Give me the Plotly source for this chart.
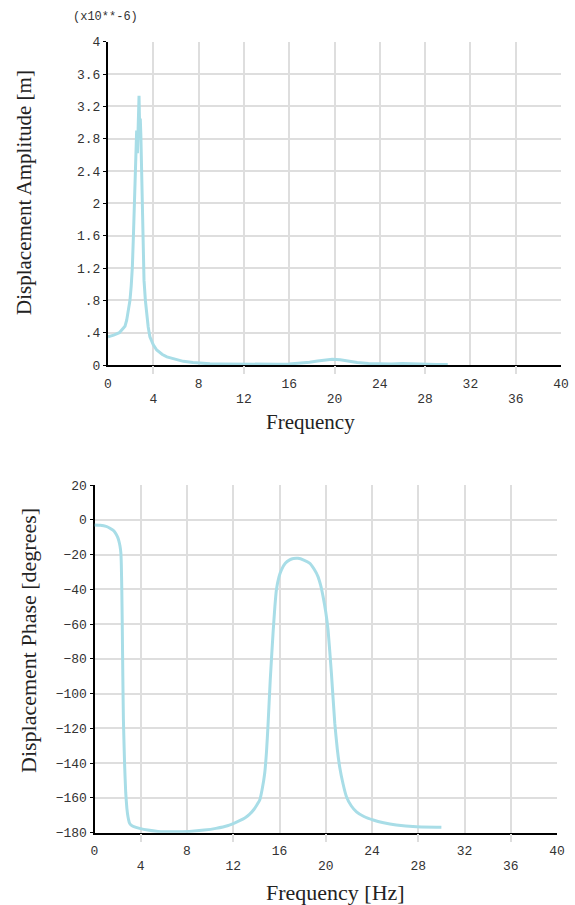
import plotly.graph_objects as go

# ---- data -------------------------------------------------------------
# displacement amplitude, in units of 1e-6 m
amp_freq = [0, 0.5, 1.0, 1.5, 1.65, 1.8, 1.94, 2.05, 2.15, 2.24, 2.38, 2.53,
            2.6, 2.66, 2.74, 2.8, 2.85, 2.9, 2.97, 3.06, 3.18, 3.3, 3.41,
            3.55, 3.7, 4.0, 4.3, 4.8, 5.2, 6.0, 6.65, 7.5, 8.1, 9.0, 10.0,
            11.0, 12.0, 13.0, 14.0, 15.0, 16.0, 17.0, 17.8, 18.5, 19.2, 19.8,
            20.5, 21.2, 22.0, 23.0, 24.0, 25.0, 26.0, 27.0, 28.0, 29.0, 30.0]
amp_vals = [0.35, 0.37, 0.40, 0.48, 0.555, 0.66, 0.80, 0.98, 1.21, 1.58, 2.28,
            2.90, 2.62, 2.95, 3.33, 2.90, 3.05, 2.85, 2.41, 1.67, 1.05, 0.80,
            0.64, 0.47, 0.35, 0.25, 0.185, 0.13, 0.10, 0.065, 0.045, 0.03,
            0.022, 0.015, 0.012, 0.010, 0.008, 0.008, 0.008, 0.010, 0.012,
            0.020, 0.035, 0.050, 0.065, 0.070, 0.065, 0.045, 0.030, 0.020,
            0.015, 0.012, 0.018, 0.012, 0.008, 0.006, 0.006]

# displacement phase, degrees
ph_freq = [0, 0.5, 1.0, 1.3, 1.6, 1.8, 2.0, 2.1, 2.2, 2.28, 2.32, 2.36, 2.4,
           2.45, 2.5, 2.6, 2.7, 2.8, 2.9, 3.03, 3.2, 3.4, 3.9, 4.6, 5.5, 7.0,
           8.2, 9.5, 10.5, 11.5, 12.55, 13.0, 13.4, 13.8, 14.0, 14.29, 14.5,
           14.72, 14.88, 15.0, 15.2, 15.44, 15.6, 15.73, 15.95, 16.16, 16.5,
           16.88, 17.2, 17.6, 18.1, 18.6, 19.0, 19.33, 19.55, 19.77, 20.0,
           20.2, 20.49, 20.78, 21.0, 21.2, 21.5, 21.79, 22.2, 22.66, 23.3,
           24.1, 25.0, 26.1, 27.85, 30.0]
ph_vals = [-3.0, -3.2, -3.8, -4.7, -6.0, -7.5, -10.0, -12.0, -15.0, -19.0,
           -26.0, -40.0, -60.0, -90.0, -115.0, -140.0, -157.0, -166.0, -171.0,
           -174.5, -175.8, -176.5, -177.5, -178.5, -179.3, -179.5, -179.3,
           -178.5, -177.5, -176.0, -173.0, -171.5, -169.5, -166.5, -164.5,
           -161.2, -155.0, -145.8, -133.0, -119.0, -92.0, -65.3, -50.0, -40.4,
           -33.0, -28.9, -25.0, -23.1, -22.3, -22.2, -23.2, -25.0, -28.5,
           -32.7, -37.5, -44.2, -53.0, -63.4, -88.3, -117.0, -132.0, -142.0,
           -152.0, -159.3, -164.5, -168.0, -170.7, -172.7, -174.3, -175.6,
           -176.6, -176.9]

# axis ticks
x_grid = list(range(0, 41, 4))            # every vertical grid line
x_major = [0, 8, 16, 24, 32, 40]          # upper label row
x_minor = [4, 12, 20, 28, 36]             # lower label row
amp_ticks = [0, 0.4, 0.8, 1.2, 1.6, 2.0, 2.4, 2.8, 3.2, 3.6, 4.0]
amp_text = ["0", ".4", ".8", "1.2", "1.6", "2", "2.4", "2.8", "3.2", "3.6", "4"]
ph_ticks = list(range(-180, 21, 20))

# upper row shows only the multiples of 8; the rest go on the lower row
x_grid_text = [str(v) if v in x_major else "" for v in x_grid]

# ---- styling ----------------------------------------------------------
W, H = 575, 905
CURVE = "#a8dde7"
GRID = "#dedede"
MONO = dict(family="Liberation Mono, Courier New, monospace", size=13, color="#333")
SERIF = "Liberation Serif, Times New Roman, serif"

top_x = [108 / W, 561 / W]
top_y = [1 - 365 / H, 1 - 41.7 / H]
bot_x = [94.5 / W, 557 / W]
bot_y = [1 - 832.7 / H, 1 - 485 / H]

fig = go.Figure()
fig.add_trace(go.Scatter(x=amp_freq, y=amp_vals, mode="lines",
                         line=dict(color=CURVE, width=3), xaxis="x", yaxis="y",
                         hoverinfo="skip", showlegend=False))
fig.add_trace(go.Scatter(x=ph_freq, y=ph_vals, mode="lines",
                         line=dict(color=CURVE, width=3, shape="spline", smoothing=0.4),
                         xaxis="x2", yaxis="y2", hoverinfo="skip", showlegend=False))
# invisible carriers for the second row of frequency labels
fig.add_trace(go.Scatter(x=x_minor, y=[None] * len(x_minor), xaxis="x3", yaxis="y",
                         showlegend=False, hoverinfo="skip"))
fig.add_trace(go.Scatter(x=x_minor, y=[None] * len(x_minor), xaxis="x4", yaxis="y2",
                         showlegend=False, hoverinfo="skip"))

common_x = dict(range=[0, 40], showgrid=True, gridcolor=GRID, gridwidth=1.5,
                showline=True, linecolor="black", linewidth=2, zeroline=False,
                tickmode="array", tickvals=x_grid, ticktext=x_grid_text,
                ticks="", ticklabelstandoff=5, tickfont=MONO,
                layer="below traces", fixedrange=True, automargin=False)
minor_x = dict(range=[0, 40], showgrid=False, showline=False, zeroline=False,
               tickmode="array", tickvals=x_minor, ticktext=[str(v) for v in x_minor],
               ticks="outside", ticklen=8, tickcolor=GRID, tickwidth=1.5,
               tickfont=MONO, ticklabelstandoff=13, fixedrange=True,
               automargin=False)
common_y = dict(showgrid=True, gridcolor=GRID, gridwidth=1.5, showline=True,
                linecolor="black", linewidth=2, zeroline=False, ticks="outside",
                ticklen=3, tickcolor="black", tickfont=MONO, layer="below traces",
                fixedrange=True, automargin=False)

fig.update_layout(
    width=W, height=H, margin=dict(l=0, r=0, t=0, b=0),
    paper_bgcolor="white", plot_bgcolor="white", showlegend=False,
    xaxis=dict(domain=top_x, anchor="y", **common_x),
    xaxis3=dict(domain=top_x, anchor="y", overlaying="x", **minor_x),
    yaxis=dict(domain=top_y, anchor="x", range=[0, 4], tickmode="array",
               tickvals=amp_ticks, ticktext=amp_text, **common_y),
    xaxis2=dict(domain=bot_x, anchor="y2", **common_x),
    xaxis4=dict(domain=bot_x, anchor="y2", overlaying="x2", **minor_x),
    yaxis2=dict(domain=bot_y, anchor="x2", range=[-180, 20], tickmode="array",
                tickvals=ph_ticks, **common_y),
    annotations=[
        dict(text="(x10**-6)", x=105 / W, y=1 - 16.7 / H, xref="paper", yref="paper",
             xanchor="center", yanchor="middle", showarrow=False,
             font=dict(family=MONO["family"], size=12, color="#333")),
        dict(text="Displacement Amplitude [m]", x=24 / W, y=1 - 193 / H,
             xref="paper", yref="paper", xanchor="center", yanchor="middle",
             textangle=-90, showarrow=False,
             font=dict(family=SERIF, size=21, color="#222")),
        dict(text="Frequency", x=310 / W, y=1 - 422 / H, xref="paper", yref="paper",
             xanchor="center", yanchor="middle", showarrow=False,
             font=dict(family=SERIF, size=21, color="#222")),
        dict(text="Displacement Phase [degrees]", x=28 / W, y=1 - 641 / H,
             xref="paper", yref="paper", xanchor="center", yanchor="middle",
             textangle=-90, showarrow=False,
             font=dict(family=SERIF, size=22, color="#222")),
        dict(text="Frequency [Hz]", x=335 / W, y=1 - 892 / H, xref="paper",
             yref="paper", xanchor="center", yanchor="middle", showarrow=False,
             font=dict(family=SERIF, size=22, color="#222")),
    ],
)

fig.write_html("out.html")
